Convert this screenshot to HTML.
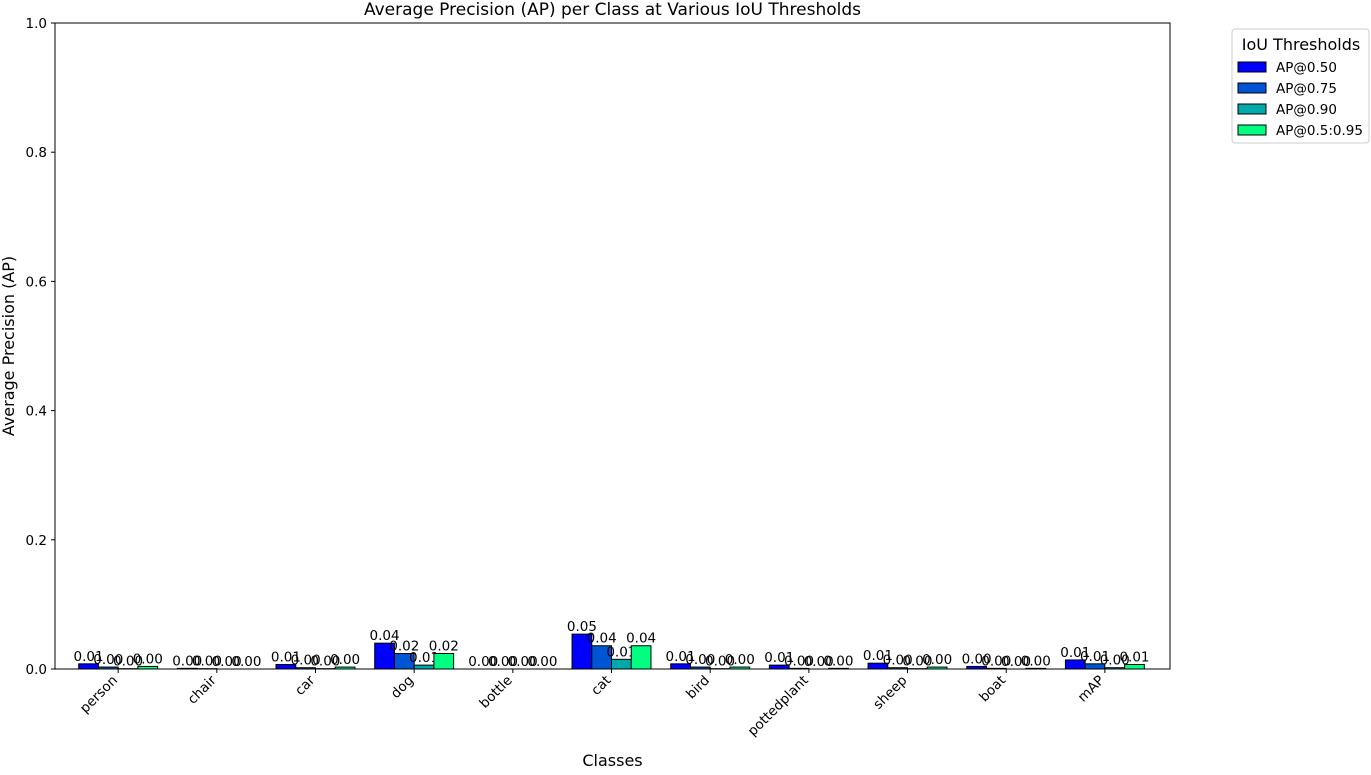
<!DOCTYPE html>
<html><head><meta charset="utf-8"><style>
body{margin:0;background:#fff;font-family:"Liberation Sans","DejaVu Sans",sans-serif}
svg text{font-family:"DejaVu Sans","Liberation Sans",sans-serif}
</style></head><body>
<svg id="chart" width="1371" height="770" xmlns="http://www.w3.org/2000/svg">
<rect width="1371" height="770" fill="#fff"/>
<g id="plot"></g>
</svg>
<script>
const categories=["person","chair","car","dog","bottle","cat","bird","pottedplant","sheep","boat","mAP"];
const ap50=[0.008,0.001,0.007,0.040,0.0,0.054,0.008,0.006,0.009,0.004,0.014];
const ap75=[0.003,0.0005,0.002,0.024,0.0,0.036,0.003,0.001,0.002,0.001,0.008];
const ap90=[0.0005,0.0,0.0005,0.006,0.0,0.015,0.0005,0.0,0.0005,0.0,0.002];
const ap5095=[0.004,0.0,0.003,0.024,0.0,0.036,0.003,0.001,0.003,0.001,0.007];
const seriesNames=["AP@0.50","AP@0.75","AP@0.90","AP@0.5:0.95"];
const yTicks=[0,0.2,0.4,0.6,0.8,1.0];
const colors=["#0000ff","#0055d4","#00aaaa","#00ff80"];
const series=[ap50,ap75,ap90,ap5095];
const L=55,R=1170,T=23,B=669;
const xmin=-0.64,xmax=10.66;
const X=v=>L+(v-xmin)/(xmax-xmin)*(R-L);
const Y=v=>B-v*(B-T);
const NS="http://www.w3.org/2000/svg";
const g=document.getElementById('plot');
function mk(tag,attrs,parent){const e=document.createElementNS(NS,tag);for(const k in attrs)e.setAttribute(k,attrs[k]);(parent||g).appendChild(e);return e;}
let t=mk('text',{x:(L+R)/2,y:15,'text-anchor':'middle','font-size':'17'});t.textContent="Average Precision (AP) per Class at Various IoU Thresholds";


const w=0.2;
series.forEach((s,si)=>{
  s.forEach((v,i)=>{
    const c=i+(si-1.5)*w;
    const r=mk('rect',{x:X(c-w/2),y:Y(v),width:X(c+w/2)-X(c-w/2),height:Math.max(0,Y(0)-Y(v)),fill:colors[si],stroke:'#000','stroke-width':1});
    
    
    const lb=mk('text',{x:X(c),y:Y(v)-3,'text-anchor':'middle','font-size':'13.5'});
    lb.textContent=v.toFixed(2);
    
    
  });
});
const f=mk('rect',{x:L,y:T,width:R-L,height:B-T,fill:'none',stroke:'#000','stroke-width':1});


yTicks.forEach(v=>{
  mk('line',{x1:L-4,x2:L,y1:Y(v),y2:Y(v),stroke:'#000'});
  const tt=mk('text',{x:L-8,y:Y(v)+5,'text-anchor':'end','font-size':'13.5'});
  tt.textContent=v.toFixed(1);
  
  
});
categories.forEach((c,i)=>{
  const x=X(i);
  mk('line',{x1:x,x2:x,y1:B,y2:B+4,stroke:'#000'});
  const tt=mk('text',{x:x,y:B+12,'text-anchor':'end','font-size':'13.5',transform:`rotate(-45 ${x} ${B+12})`});
  tt.textContent=c;
  
  
});
let xl=mk('text',{x:(L+R)/2,y:766,'text-anchor':'middle','font-size':'16'});xl.textContent="Classes";


let yl=mk('text',{x:14,y:(T+B)/2,'text-anchor':'middle','font-size':'16',transform:`rotate(-90 14 ${(T+B)/2})`});yl.textContent="Average Precision (AP)";


const lg=mk('g',{});


mk('rect',{x:1232,y:29,width:137,height:114,rx:3,fill:'#fff',stroke:'#ccc'},lg);
const lt=mk('text',{x:1301,y:50,'text-anchor':'middle','font-size':'16'},lg);lt.textContent="IoU Thresholds";
seriesNames.forEach((n,i)=>{
  const y=67+i*21;
  const sw=mk('rect',{x:1238,y:y-5,width:28,height:10,fill:colors[i],stroke:'#000'},lg);
  
  
  const tx=mk('text',{x:1276,y:y+5,'font-size':'13.5'},lg);tx.textContent=n;
  
  
});
</script>
</body></html>
